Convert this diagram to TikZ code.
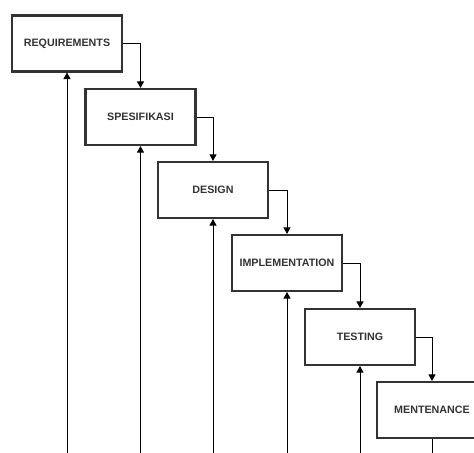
\documentclass[tikz,border=0pt]{standalone}
\usepackage{fontspec}
\setsansfont{Liberation Sans}
\usetikzlibrary{arrows.meta,positioning}
\tikzset{
	phase/.style={draw=black!80, line width=1.2pt, fill=white, align=center,
		minimum width=2.2cm, minimum height=1.12cm,
		font=\sffamily\bfseries\fontsize{6.1}{7}\selectfont, text=black!80},
	arrow/.style={-{Triangle[length=1.3mm,width=1.4mm]}, line width=0.5pt},
	plainline/.style={line width=0.5pt}
}
\begin{document}
\begin{tikzpicture}[x=0.02cm, y=-0.02cm]
	
	\useasboundingbox (0,0) rectangle (474,453);
	\clip (0,0) rectangle (474,453);
	
	%% -- Phases
	\node[phase] (req)  at (67,43.5)  {REQUIREMENTS};
	\node[phase] (spes) at (140.5,117) {SPESIFIKASI};
	\node[phase] (des)  at (213,190)  {DESIGN};
	\node[phase] (impl) at (287,263)  {IMPLEMENTATION};
	\node[phase] (test) at (360,337)  {TESTING};
	\node[phase] (ment) at (432,410)  {MENTENANCE};
	
	%% -- Bottom ends
	\coordinate (b1) at (67,453);
	\coordinate (b2) at (140.5,453);
	\coordinate (b3) at (213,453);
	\coordinate (b4) at (287,453);
	\coordinate (b5) at (360,453);
	\coordinate (b6) at (432,453);
	
	%% -- Flow down
	\draw[arrow] (req.east) -| (spes.north);
	\draw[arrow] (spes.east) -| (des.north);
	\draw[arrow] (des.east) -| (impl.north);
	\draw[arrow] (impl.east) -| (test.north);
	\draw[arrow] (test.east) -| (ment.north);
	
	%% -- Feedback up
	\draw[arrow] (b1) -- (req.south);
	\draw[arrow] (b2) -- (spes.south);
	\draw[arrow] (b3) -- (des.south);
	\draw[arrow] (b4) -- (impl.south);
	\draw[arrow] (b5) -- (test.south);
	\draw[plainline] (ment.south) -- (b6);
	
\end{tikzpicture}
\end{document}
